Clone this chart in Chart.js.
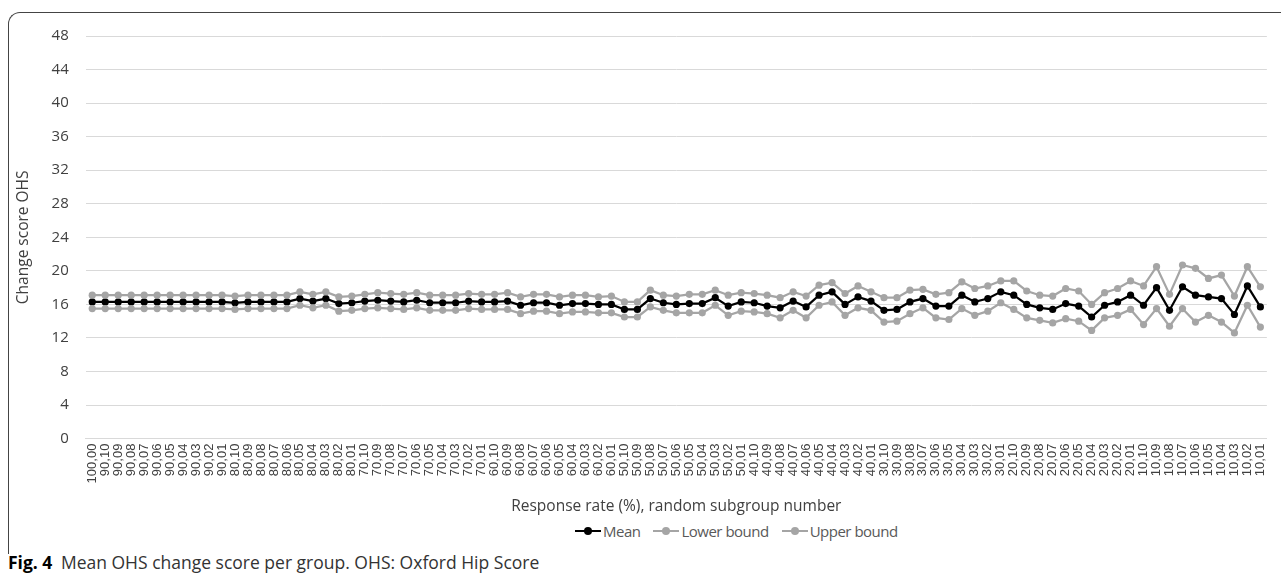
<!DOCTYPE html>
<html>
<head>
<meta charset="utf-8">
<script src="https://cdn.jsdelivr.net/npm/chart.js@4"></script>
<style>
  html, body { margin: 0; padding: 0; background: #fff; }
  body { width: 1281px; height: 583px; position: relative; overflow: hidden; }
  .frame {
    position: absolute; left: 8px; top: 12px; width: 1300px; height: 541px;
    border-top: 1px solid #444; border-left: 1px solid #444;
    border-top-left-radius: 12px;
  }
  .chart-box { position: absolute; left: 0; top: 0; width: 1281px; height: 516px; }
  .legend {
    position: absolute; left: 575px; top: 521px; display: flex; gap: 13px;
    font-family: "Open Sans", sans-serif; font-size: 15px; letter-spacing: -0.5px; color: #595959;
  }
  .legend span { display: flex; align-items: center; }
  .legend canvas { margin-right: 2px; }
  .caption {
    position: absolute; left: 8px; top: 550px;
    font-family: "Open Sans", sans-serif; font-size: 17.5px; color: #333;
  }
  .caption b { color: #000; margin-right: 4px; }
</style>
</head>
<body>
<div class="frame"></div>
<div class="chart-box"><canvas id="myChart"></canvas></div>
<div class="legend" id="legend"></div>
<div class="caption"><b>Fig. 4</b> Mean OHS change score per group. OHS: Oxford Hip Score</div>
<script>
// response rate (%), random subgroup number
const categories = [
  '100,00',
  '90,10','90,09','90,08','90,07','90,06','90,05','90,04','90,03','90,02','90,01',
  '80,10','80,09','80,08','80,07','80,06','80,05','80,04','80,03','80,02','80,01',
  '70,10','70,09','70,08','70,07','70,06','70,05','70,04','70,03','70,02','70,01',
  '60,10','60,09','60,08','60,07','60,06','60,05','60,04','60,03','60,02','60,01',
  '50,10','50,09','50,08','50,07','50,06','50,05','50,04','50,03','50,02','50,01',
  '40,10','40,09','40,08','40,07','40,06','40,05','40,04','40,03','40,02','40,01',
  '30,10','30,09','30,08','30,07','30,06','30,05','30,04','30,03','30,02','30,01',
  '20,10','20,09','20,08','20,07','20,06','20,05','20,04','20,03','20,02','20,01',
  '10,10','10,09','10,08','10,07','10,06','10,05','10,04','10,03','10,02','10,01'
];

const meanValues = [
  16.3,16.3,16.3,16.3,16.3,16.3,16.3,16.3,16.3,16.3,16.3,
  16.2,16.3,16.3,16.3,16.3,16.7,16.4,16.7,16.1,16.2,
  16.4,16.5,16.4,16.3,16.5,16.2,16.2,16.2,16.4,16.3,
  16.3,16.4,15.9,16.2,16.2,15.9,16.1,16.1,16.0,16.0,
  15.4,15.4,16.7,16.2,16.0,16.1,16.1,16.8,15.8,16.3,
  16.2,15.8,15.6,16.4,15.7,17.1,17.5,16.0,16.9,16.4,
  15.3,15.4,16.3,16.7,15.8,15.8,17.1,16.3,16.7,17.5,
  17.1,16.0,15.6,15.4,16.1,15.8,14.5,15.9,16.3,17.1,
  15.9,18.0,15.3,18.1,17.1,16.9,16.7,14.8,18.2,15.7
];

const lowerValues = [
  15.5,15.5,15.5,15.5,15.5,15.5,15.5,15.5,15.5,15.5,15.5,
  15.4,15.5,15.5,15.5,15.5,15.9,15.6,15.9,15.2,15.3,
  15.5,15.6,15.5,15.4,15.6,15.3,15.3,15.3,15.5,15.4,
  15.4,15.4,14.9,15.2,15.2,14.9,15.1,15.1,15.0,15.0,
  14.5,14.5,15.7,15.3,15.0,15.0,15.0,15.9,14.7,15.2,
  15.1,14.9,14.4,15.3,14.4,15.9,16.3,14.7,15.6,15.3,
  13.9,14.0,14.9,15.6,14.4,14.2,15.5,14.7,15.2,16.2,
  15.4,14.4,14.1,13.8,14.3,14.0,12.9,14.4,14.7,15.4,
  13.6,15.5,13.4,15.5,13.9,14.7,13.9,12.6,15.9,13.3
];

const upperValues = [
  17.1,17.1,17.1,17.1,17.1,17.1,17.1,17.1,17.1,17.1,17.1,
  17.0,17.1,17.1,17.1,17.1,17.5,17.2,17.5,16.9,17.0,
  17.2,17.4,17.3,17.2,17.4,17.1,17.1,17.1,17.3,17.2,
  17.2,17.4,16.9,17.2,17.2,16.9,17.1,17.1,16.9,17.0,
  16.3,16.3,17.7,17.1,17.0,17.2,17.2,17.7,17.1,17.4,
  17.3,17.1,16.8,17.5,17.0,18.3,18.6,17.3,18.2,17.5,
  16.8,16.8,17.7,17.8,17.2,17.4,18.7,17.9,18.2,18.8,
  18.8,17.6,17.1,17.0,17.9,17.6,16.0,17.4,17.9,18.8,
  18.2,20.5,17.2,20.7,20.3,19.1,19.5,17.0,20.5,18.1
];

const yTicks = { min: 0, max: 48, step: 4 };

const black = '#000000';
const grey = '#a5a5a5';

function series(label, data, color) {
  return {
    label: label,
    data: data,
    borderColor: color,
    backgroundColor: color,
    borderWidth: 2.25,
    pointRadius: 3.6,
    pointHoverRadius: 4,
    pointBorderWidth: 0,
    pointStyle: 'circle',
    tension: 0
  };
}

// legend marker: short line with a dot on it, like the spreadsheet legend
function legendMarker(color) {
  const c = document.createElement('canvas');
  c.width = 26; c.height = 10;
  const g = c.getContext('2d');
  g.strokeStyle = color; g.lineWidth = 2;
  g.beginPath(); g.moveTo(0, 5); g.lineTo(26, 5); g.stroke();
  g.fillStyle = color;
  g.beginPath(); g.arc(13, 5, 4, 0, Math.PI * 2); g.fill();
  return c;
}

const ctx = document.getElementById('myChart').getContext('2d');
const chart = new Chart(ctx, {
  type: 'line',
  data: {
    labels: categories,
    datasets: [
      series('Upper bound', upperValues, grey),
      series('Lower bound', lowerValues, grey),
      series('Mean', meanValues, black)
    ]
  },
  options: {
    responsive: true,
    maintainAspectRatio: false,
    animation: false,
    layout: { padding: { left: 14, right: 5, top: 36, bottom: 0 } },
    plugins: {
      tooltip: { enabled: false },
      legend: { display: false }
    },
    scales: {
      x: {
        offset: true,
        grid: { display: false, drawTicks: false },
        border: { color: '#d9d9d9', width: 1 },
        ticks: {
          autoSkip: false,
          maxRotation: 90,
          minRotation: 90,
          padding: 5,
          color: '#404040',
          font: { family: 'Liberation Sans', size: 13 }
        },
        title: {
          display: true,
          text: 'Response rate (%), random subgroup number',
          color: '#404040',
          font: { family: 'Open Sans', size: 15.5 },
          padding: { top: 9, bottom: 0 }
        }
      },
      y: {
        min: yTicks.min,
        max: yTicks.max,
        grid: { color: '#d9d9d9', lineWidth: 1, drawTicks: false },
        border: { display: false },
        ticks: {
          stepSize: yTicks.step,
          padding: 17,
          color: '#404040',
          font: { family: 'Open Sans', size: 15 }
        },
        title: {
          display: true,
          text: 'Change score OHS',
          color: '#404040',
          font: { family: 'Open Sans', size: 15.5 },
          padding: { top: 0, bottom: 2 }
        }
      }
    }
  }
});

// legend drawn below the axis title, order as in the reference
const legendBox = document.getElementById('legend');
[...chart.data.datasets].reverse().forEach(ds => {
  const item = document.createElement('span');
  item.appendChild(legendMarker(ds.borderColor));
  item.appendChild(document.createTextNode(ds.label));
  legendBox.appendChild(item);
});
</script>
</body>
</html>
